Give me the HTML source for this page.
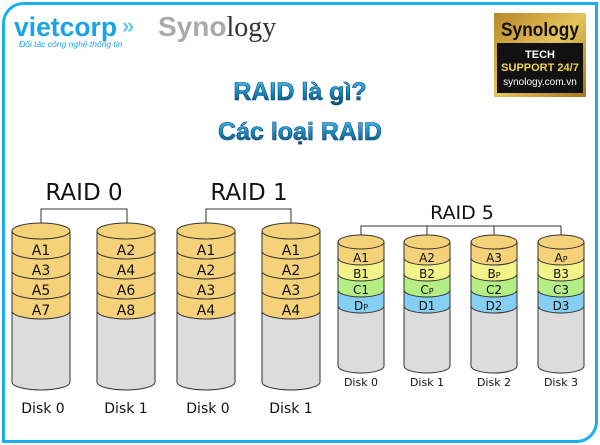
<!DOCTYPE html>
<html><head><meta charset="utf-8"><style>
html,body{margin:0;padding:0;background:#fff;width:600px;height:445px;overflow:hidden}
svg{display:block}
</style></head><body>
<svg width="600" height="445" viewBox="0 0 600 445" xmlns="http://www.w3.org/2000/svg" font-family="'DejaVu Sans','Liberation Sans',sans-serif">
<defs>
<linearGradient id="tg" x1="0" y1="0" x2="0" y2="1">
<stop offset="0" stop-color="#4fc6fa"/><stop offset="0.45" stop-color="#1a94d2"/><stop offset="1" stop-color="#08446c"/>
</linearGradient>
<linearGradient id="gold" x1="0" y1="0" x2="1" y2="1">
<stop offset="0" stop-color="#b8862a"/><stop offset="0.5" stop-color="#e6c45a"/><stop offset="1" stop-color="#a87420"/>
</linearGradient>
<g id="c0" stroke="#333" stroke-width="1">
<path d="M0,80 L0,151 A29,8 0 0 0 58,151 L58,80 Z" fill="#dcdcdc"/>
<path d="M0,60 L0,80 A29,8 0 0 0 58,80 L58,60 Z" fill="#f5d27a"/>
<path d="M0,40 L0,60 A29,8 0 0 0 58,60 L58,40 Z" fill="#f5d27a"/>
<path d="M0,20 L0,40 A29,8 0 0 0 58,40 L58,20 Z" fill="#f5d27a"/>
<path d="M0,0 L0,20 A29,8 0 0 0 58,20 L58,0 Z" fill="#f5d27a"/>
<ellipse cx="29" cy="0" rx="29" ry="8" fill="#f5d27a"/>
</g>
<g id="c5" stroke="#333" stroke-width="1">
<path d="M0,64 L0,124 A23,7 0 0 0 46,124 L46,64 Z" fill="#dcdcdc"/>
<path d="M0,48 L0,64 A23,7 0 0 0 46,64 L46,48 Z" fill="#84cff2"/>
<path d="M0,32 L0,48 A23,7 0 0 0 46,48 L46,32 Z" fill="#b6ee86"/>
<path d="M0,16 L0,32 A23,7 0 0 0 46,32 L46,16 Z" fill="#f3f38a"/>
<path d="M0,0 L0,16 A23,7 0 0 0 46,16 L46,0 Z" fill="#f5d27a"/>
<ellipse cx="23" cy="0" rx="23" ry="7" fill="#f5d27a"/>
</g>
</defs>

<path d="M23.5,3.5 H596.5 V421.5 A20,20 0 0 1 576.5,441.5 H3.5 V23.5 A20,20 0 0 1 23.5,3.5 Z" fill="none" stroke="#1ab0ec" stroke-width="3"/>

<text x="14" y="36" font-family="'Liberation Sans',sans-serif" font-weight="bold" font-size="27" fill="#1aa3e6" textLength="103" lengthAdjust="spacingAndGlyphs">vietcorp</text>
<text x="122" y="33" font-family="'Liberation Sans',sans-serif" font-weight="bold" font-size="22" fill="#6cc8f2">»</text>
<text x="19" y="47" font-family="'Liberation Sans',sans-serif" font-style="italic" font-size="8.5" fill="#1aa3e6">Đối tác công nghệ thông tin</text>
<text x="158" y="36" font-family="'Liberation Sans',sans-serif" font-weight="bold" font-size="28" fill="#aaa">Syno<tspan font-family="'Liberation Serif',serif" font-weight="normal" fill="#333">logy</tspan></text>

<rect x="494" y="13" width="92" height="84" fill="url(#gold)"/>
<text x="540" y="36" text-anchor="middle" font-family="'Liberation Sans',sans-serif" font-weight="bold" font-size="19" fill="#111" textLength="78" lengthAdjust="spacingAndGlyphs">Synology</text>
<rect x="497" y="43" width="86" height="50" fill="#111"/>
<text x="540" y="58" text-anchor="middle" font-family="'Liberation Sans',sans-serif" font-weight="bold" font-size="11" fill="#fff">TECH</text>
<text x="540" y="71" text-anchor="middle" font-family="'Liberation Sans',sans-serif" font-weight="bold" font-size="11" fill="#f2d34a">SUPPORT 24/7</text>
<text x="540" y="85" text-anchor="middle" font-family="'Liberation Sans',sans-serif" font-size="10" fill="#fff">synology.com.vn</text>

<text x="300" y="100" text-anchor="middle" font-family="'Liberation Sans',sans-serif" font-weight="bold" font-size="25" fill="url(#tg)" stroke="#08446c" stroke-width="0.6">RAID là gì?</text>
<text x="300" y="140" text-anchor="middle" font-family="'Liberation Sans',sans-serif" font-weight="bold" font-size="25" fill="url(#tg)" stroke="#08446c" stroke-width="0.6">Các loại RAID</text>

<text x="84" y="200" text-anchor="middle" font-size="23" fill="#111">RAID 0</text>
<path d="M41,230 V209 H127 V230" fill="none" stroke="#333"/>
<use href="#c0" x="12" y="231"/>
<use href="#c0" x="97" y="231"/>
<g font-size="14" fill="#111" text-anchor="middle">
<text x="41" y="255">A1</text><text x="41" y="275">A3</text><text x="41" y="295">A5</text><text x="41" y="315">A7</text>
<text x="126" y="255">A2</text><text x="126" y="275">A4</text><text x="126" y="295">A6</text><text x="126" y="315">A8</text>
<text x="43" y="413">Disk 0</text><text x="126" y="413">Disk 1</text>
</g>

<text x="249" y="200" text-anchor="middle" font-size="23" fill="#111">RAID 1</text>
<path d="M206,230 V209 H291 V230" fill="none" stroke="#333"/>
<use href="#c0" x="177" y="231"/>
<use href="#c0" x="262" y="231"/>
<g font-size="14" fill="#111" text-anchor="middle">
<text x="206" y="255">A1</text><text x="206" y="275">A2</text><text x="206" y="295">A3</text><text x="206" y="315">A4</text>
<text x="291" y="255">A1</text><text x="291" y="275">A2</text><text x="291" y="295">A3</text><text x="291" y="315">A4</text>
<text x="208" y="413">Disk 0</text><text x="291" y="413">Disk 1</text>
</g>

<text x="462" y="219" text-anchor="middle" font-size="19" fill="#111">RAID 5</text>
<path d="M361,241 V226 H561 M427,226 V241 M494,226 V241 M561,226 V241" fill="none" stroke="#333"/>
<use href="#c5" x="338" y="242"/>
<use href="#c5" x="404" y="242"/>
<use href="#c5" x="471" y="242"/>
<use href="#c5" x="538" y="242"/>
<g font-size="12" fill="#111" text-anchor="middle">
<text x="361" y="262">A1</text><text x="361" y="278">B1</text><text x="361" y="294">C1</text><text x="361" y="310">D<tspan font-size="8">P</tspan></text>
<text x="427" y="262">A2</text><text x="427" y="278">B2</text><text x="427" y="294">C<tspan font-size="8">P</tspan></text><text x="427" y="310">D1</text>
<text x="494" y="262">A3</text><text x="494" y="278">B<tspan font-size="8">P</tspan></text><text x="494" y="294">C2</text><text x="494" y="310">D2</text>
<text x="561" y="262">A<tspan font-size="8">P</tspan></text><text x="561" y="278">B3</text><text x="561" y="294">C3</text><text x="561" y="310">D3</text>
<g font-size="11"><text x="361" y="386">Disk 0</text><text x="427" y="386">Disk 1</text><text x="494" y="386">Disk 2</text><text x="561" y="386">Disk 3</text></g>
</g>
</svg>
</body></html>
